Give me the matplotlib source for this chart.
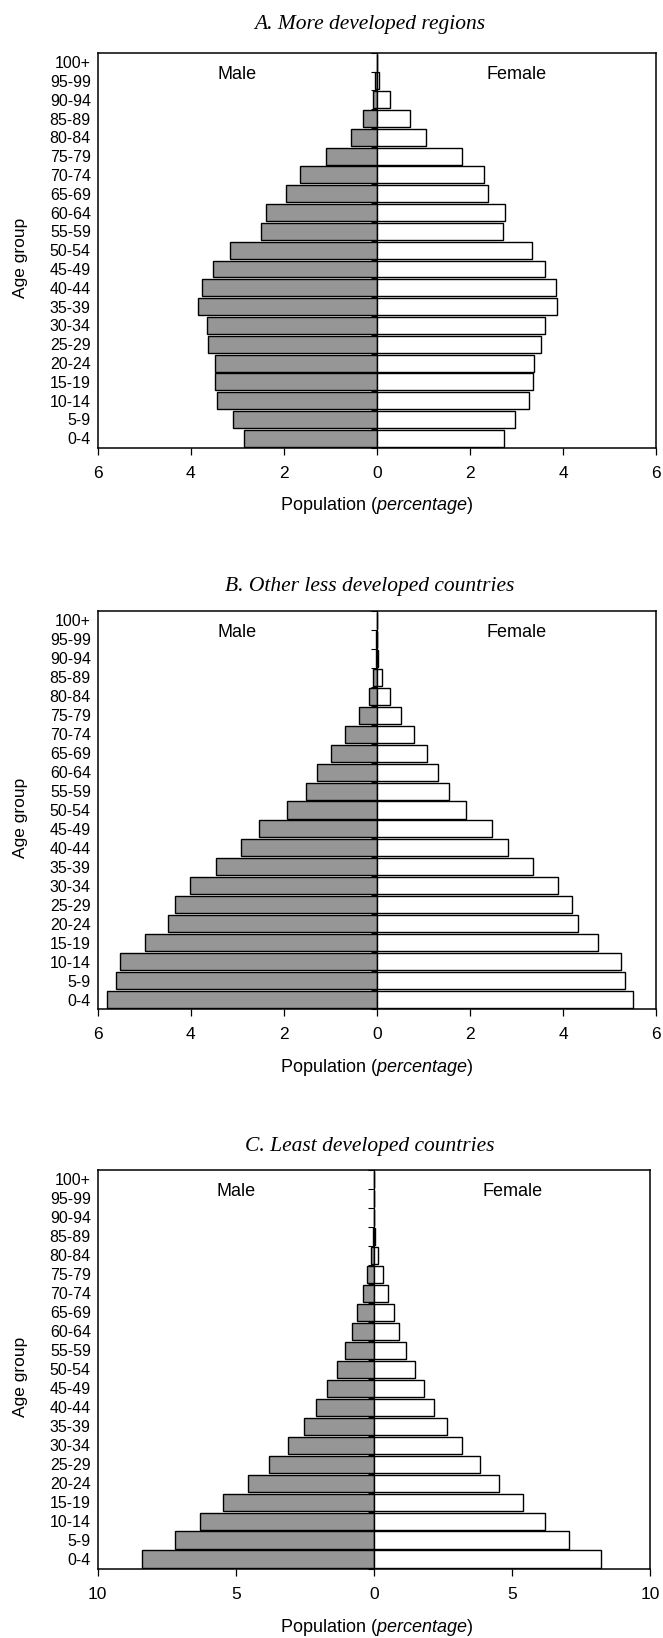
import matplotlib
matplotlib.use('Agg')
import matplotlib.pyplot as plt
import numpy as np
from matplotlib.ticker import FuncFormatter

plt.rcParams['font.family'] = ['Liberation Sans', 'DejaVu Sans']
plt.rcParams['mathtext.fontset'] = 'custom'
plt.rcParams['mathtext.rm'] = 'Liberation Sans'
plt.rcParams['mathtext.it'] = 'Liberation Sans:italic'

age_groups = ['0-4', '5-9', '10-14', '15-19', '20-24', '25-29', '30-34', '35-39',
              '40-44', '45-49', '50-54', '55-59', '60-64', '65-69', '70-74', '75-79',
              '80-84', '85-89', '90-94', '95-99', '100+']

titles = ['A. More developed regions', 'B. Other less developed countries',
          'C. Least developed countries']

a_male = [2.86, 3.10, 3.44, 3.49, 3.49, 3.64, 3.66, 3.85, 3.75, 3.52, 3.16, 2.50,
          2.39, 1.96, 1.66, 1.10, 0.56, 0.29, 0.09, 0.05, 0.0]
a_female = [2.73, 2.96, 3.26, 3.35, 3.38, 3.53, 3.62, 3.86, 3.84, 3.62, 3.33, 2.70,
            2.75, 2.39, 2.31, 1.83, 1.05, 0.72, 0.27, 0.05, 0.0]

b_male = [5.79, 5.61, 5.52, 4.98, 4.48, 4.33, 4.02, 3.46, 2.93, 2.53, 1.94, 1.52,
          1.28, 0.98, 0.68, 0.39, 0.17, 0.08, 0.02, 0.01, 0.0]
b_female = [5.51, 5.33, 5.24, 4.75, 4.31, 4.19, 3.88, 3.35, 2.81, 2.48, 1.92, 1.54,
            1.32, 1.08, 0.79, 0.52, 0.27, 0.10, 0.03, 0.01, 0.0]

c_male = [8.39, 7.19, 6.28, 5.47, 4.56, 3.81, 3.12, 2.55, 2.09, 1.71, 1.35, 1.04,
          0.80, 0.60, 0.40, 0.24, 0.11, 0.05, 0.01, 0.005, 0.0]
c_female = [8.20, 7.05, 6.19, 5.38, 4.54, 3.82, 3.18, 2.63, 2.17, 1.80, 1.47, 1.16,
            0.92, 0.72, 0.50, 0.31, 0.15, 0.05, 0.01, 0.005, 0.0]

x_limits = [6, 6, 10]
x_steps = [2, 2, 5]

W, H = 663, 1638
fig = plt.figure(figsize=(W / 100, H / 100), dpi=100)

# pixel layout: (left, right, top, bottom), title y, xlabel y
layout = [
    ((97.7, 656.2, 52.7, 447.7), 25, 506),
    ((97.7, 656.2, 611.0, 1009.0), 586, 1067),
    ((97.7, 650.3, 1170.0, 1568.5), 1146, 1627),
]

data = [(a_male, a_female), (b_male, b_female), (c_male, c_female)]

for i, ((l, r, t, b), ty, xly) in enumerate(layout):
    male, female = data[i]
    xmax, xstep = x_limits[i], x_steps[i]
    ax = fig.add_axes([l / W, 1 - b / H, (r - l) / W, (b - t) / H])
    y = np.arange(len(age_groups))
    ax.barh(y, [-m for m in male], height=0.9, color='#969696',
            edgecolor='black', linewidth=1.0, zorder=2)
    ax.barh(y, female, height=0.9, color='white',
            edgecolor='black', linewidth=1.0, zorder=2)
    ax.set_xlim(-xmax, xmax)
    ax.set_ylim(-0.5, len(age_groups) - 0.5)
    ax.set_yticks(y)
    ax.set_yticklabels(age_groups)
    ax.tick_params(axis='y', length=0, pad=5, labelsize=11.5)
    ax.set_xticks(np.arange(-xmax, xmax + 0.001, xstep))
    ax.xaxis.set_major_formatter(FuncFormatter(lambda v, p: f'{abs(v):g}'))
    ax.tick_params(axis='x', length=5, width=0.9, direction='out', pad=8,
                   labelsize=12.5)
    for s in ax.spines.values():
        s.set_linewidth(1.1)
    # central category axis at x = 0 with tick marks at category boundaries
    sec = ax.secondary_yaxis(0, transform=ax.transData)
    sec.set_yticks(np.arange(-0.5, len(age_groups), 1.0))
    sec.set_yticklabels([])
    sec.tick_params(axis='y', length=4, width=0.8, direction='out')
    for s in sec.spines.values():
        s.set_linewidth(0.8)

    ax.text(-xmax / 2, 19.35, 'Male', ha='center', va='center', fontsize=13)
    ax.text(xmax / 2, 19.35, 'Female', ha='center', va='center', fontsize=13)

    fig.text(21 / W, 1 - ((t + b) / 2 + 8) / H, 'Age group', rotation=90,
             ha='center', va='center', fontsize=12.5)

    fig.text(370 / W, 1 - ty / H, titles[i], ha='center', va='center',
             fontsize=15.5, family='Liberation Serif', style='italic')
    fig.text(377 / W, 1 - xly / H, r'Population $\mathit{(percentage)}$',
             ha='center', va='center', fontsize=13)

fig.savefig('out.png', dpi=100)
